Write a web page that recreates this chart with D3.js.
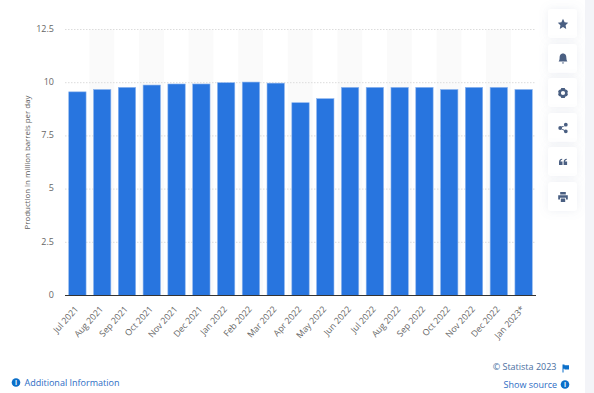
<!DOCTYPE html>
<html>
<head>
<meta charset="utf-8">
<script src="https://cdn.jsdelivr.net/npm/d3@7"></script>
<style>
html, body { margin: 0; padding: 0; background: #fff; overflow: hidden; }
text { font-family: "Open Sans", sans-serif; }
</style>
</head>
<body>
<svg id="chart"></svg>
<script>
// values
let months = ["Jul 2021", "Aug 2021", "Sep 2021", "Oct 2021", "Nov 2021", "Dec 2021", "Jan 2022",
    "Feb 2022", "Mar 2022", "Apr 2022", "May 2022", "Jun 2022", "Jul 2022", "Aug 2022",
    "Sep 2022", "Oct 2022", "Nov 2022", "Dec 2022", "Jan 2023*"];
let production = [9.57, 9.68, 9.78, 9.89, 9.94, 9.94, 10.0, 10.03, 9.98, 9.06, 9.25,
    9.78, 9.78, 9.78, 9.78, 9.68, 9.78, 9.78, 9.68];
let yTicks = [0, 2.5, 5, 7.5, 10, 12.5];
let yTitle = "Production in million barrels per day";

let w = 594, h = 393;
let left = 65, right = 536, top_ = 29.5, bottom = 295.5;

let svg = d3.select("#chart").attr("width", w).attr("height", h);

// page background and the white card
let defs = svg.append("defs");
let blur = defs.append("filter").attr("id", "soft")
    .attr("x", "-50%").attr("y", "-50%").attr("width", "200%").attr("height", "200%");
blur.append("feDropShadow").attr("dx", 0).attr("dy", 0).attr("stdDeviation", 5)
    .attr("flood-color", "#8f9ab5").attr("flood-opacity", 0.16);

svg.append("rect").attr("width", w).attr("height", h).attr("fill", "#f3f4f8");
svg.append("rect").attr("width", 585).attr("height", h).attr("fill", "#fff");

let x = d3.scaleBand().domain(months).range([left, right]).paddingInner(0.3).paddingOuter(0.15);
let stripe = d3.scaleBand().domain(months).range([left, right]);
let y = d3.scaleLinear().domain([0, 12.5]).range([bottom, top_]);

// alternating stripes behind the bars
svg.append("g").selectAll("rect")
    .data(months.filter((d, i) => i % 2 == 1))
    .enter().append("rect")
    .attr("x", d => stripe(d) - 0.3)
    .attr("y", y(12.5))
    .attr("width", stripe.bandwidth())
    .attr("height", y(0) - y(12.5))
    .attr("fill", "#fafafa");

// gridlines
svg.append("g").selectAll("line")
    .data(yTicks.filter(d => d > 0))
    .enter().append("line")
    .attr("x1", left).attr("x2", right)
    .attr("y1", d => y(d)).attr("y2", d => y(d))
    .attr("stroke", "#dcdcdc")
    .attr("stroke-dasharray", "1.5,1.5");

// bars
svg.append("g").selectAll("rect")
    .data(production)
    .enter().append("rect")
    .attr("x", (d, i) => x(months[i]))
    .attr("y", d => y(d))
    .attr("width", x.bandwidth())
    .attr("height", d => y(0) - y(d))
    .attr("fill", "#2875df")
    .attr("stroke", "#8db5ee")
    .attr("stroke-width", 0.6);

// baseline
svg.append("line")
    .attr("x1", left).attr("x2", right)
    .attr("y1", y(0)).attr("y2", y(0))
    .attr("stroke", "#333")
    .attr("stroke-width", 1);

// y axis
let yAxis = svg.append("g")
    .attr("transform", "translate(" + (left - 11) + ",0)")
    .call(d3.axisLeft(y).tickValues(yTicks).tickSize(0).tickPadding(0).tickFormat(d => d));
yAxis.select(".domain").remove();
yAxis.selectAll("text")
    .attr("font-size", 9)
    .attr("fill", "#666")
    .attr("dy", "0.2em")
    .style("font-family", '"Open Sans", sans-serif');

svg.append("text")
    .attr("transform", "translate(30,162.5) rotate(-90)")
    .attr("text-anchor", "middle")
    .attr("font-size", 7.9)
    .attr("fill", "#5c5c5c")
    .text(yTitle);

// x axis labels
let xAxis = svg.append("g")
    .attr("transform", "translate(0," + y(0) + ")")
    .call(d3.axisBottom(stripe).tickSize(0).tickPadding(0));
xAxis.select(".domain").remove();
xAxis.selectAll("text")
    .attr("font-size", 8.8)
    .attr("fill", "#666")
    .attr("text-anchor", "end")
    .attr("dy", 0)
    .attr("transform", "translate(1.5,14) rotate(-48)")
    .style("font-family", '"Open Sans", sans-serif');

// footer
svg.append("circle").attr("cx", 16).attr("cy", 382.5).attr("r", 4.3).attr("fill", "#0b6fc9");
svg.append("text").attr("x", 16).attr("y", 385).attr("text-anchor", "middle")
    .attr("font-size", 6.5).attr("font-weight", 700).attr("fill", "#fff").text("i");
svg.append("text").attr("x", 24.5).attr("y", 386)
    .attr("font-size", 9).attr("fill", "#2d6cc4").text("Additional Information");

svg.append("text").attr("x", 556.5).attr("y", 369.5).attr("text-anchor", "end")
    .attr("font-size", 9).attr("fill", "#4a6f9f").text("© Statista 2023");
svg.append("path").attr("d", "M562.5 364.5h2v0.7h4.5v4.3h-4.5v-0.8h-1v3.8h-1z").attr("fill", "#0b6fc9");

svg.append("text").attr("x", 557).attr("y", 388).attr("text-anchor", "end")
    .attr("font-size", 9).attr("fill", "#2d6cc4").text("Show source");
svg.append("circle").attr("cx", 565).attr("cy", 384.5).attr("r", 4.3).attr("fill", "#0b6fc9");
svg.append("text").attr("x", 565).attr("y", 387).attr("text-anchor", "middle")
    .attr("font-size", 6.5).attr("font-weight", 700).attr("fill", "#fff").text("i");

// side buttons
let buttonTops = [9, 44, 78, 113, 147, 182];
let icons = [
    "M0 -5.2L1.6 -1.8L5.2 -1.3L2.6 1.2L3.2 4.9L0 3.1L-3.2 4.9L-2.6 1.2L-5.2 -1.3L-1.6 -1.8Z",
    "M0 -5.5C2.7 -5.5 3.4 -3.2 3.4 -1C3.4 1 4 1.8 4.4 2.6H-4.4C-4 1.8 -3.4 1 -3.4 -1C-3.4 -3.2 -2.7 -5.5 0 -5.5ZM-1.2 3.5H1.2L0 5Z",
    "M-1.7 -4.9H1.7L2.4 -3.6L4 -3.1L4.9 -1.5L4.4 0L4.9 1.5L4 3.1L2.4 3.6L1.7 4.9H-1.7L-2.4 3.6L-4 3.1L-4.9 1.5L-4.4 0L-4.9 -1.5L-4 -3.1L-2.4 -3.6ZM0 -2.1A2.1 2.1 0 1 0 0 2.1A2.1 2.1 0 1 0 0 -2.1Z",
    "M2.8 -5.2A1.9 1.9 0 1 1 2.8 -1.4A1.9 1.9 0 1 1 2.8 -5.2ZM-2.8 -1.9A1.9 1.9 0 1 1 -2.8 1.9A1.9 1.9 0 1 1 -2.8 -1.9ZM2.8 1.4A1.9 1.9 0 1 1 2.8 5.2A1.9 1.9 0 1 1 2.8 1.4ZM-2.8 -0.5L2.8 -3.8L3.2 -3L-2.4 0.3ZM-2.4 -0.3L3.2 3L2.8 3.8L-2.8 0.5Z",
    "M-4 3H-0.5V-0.4H-2.5C-2.5 -1.4 -1.9 -2 -0.8 -2.2V-3.2C-3 -3 -4 -1.8 -4 0ZM0.6 3H4.1V-0.4H2.1C2.1 -1.4 2.7 -2 3.8 -2.2V-3.2C1.6 -3 0.6 -1.8 0.6 0Z",
    "M-2.8 -5H2.8V-2.4H-2.8ZM-4.8 -1.8H4.8V2.6H3V0.8H-3V2.6H-4.8ZM-2.2 1.6H2.2V5H-2.2Z"
];
let buttons = svg.append("g").selectAll("g")
    .data(buttonTops)
    .enter().append("g")
    .attr("transform", d => "translate(548," + d + ")");
buttons.append("rect")
    .attr("width", 29).attr("height", 29).attr("rx", 3)
    .attr("fill", "#fff")
    .attr("filter", "url(#soft)");
buttons.append("path")
    .attr("transform", "translate(15,15)")
    .attr("d", (d, i) => icons[i])
    .attr("fill", "#4a5f82");
</script>
</body>
</html>
